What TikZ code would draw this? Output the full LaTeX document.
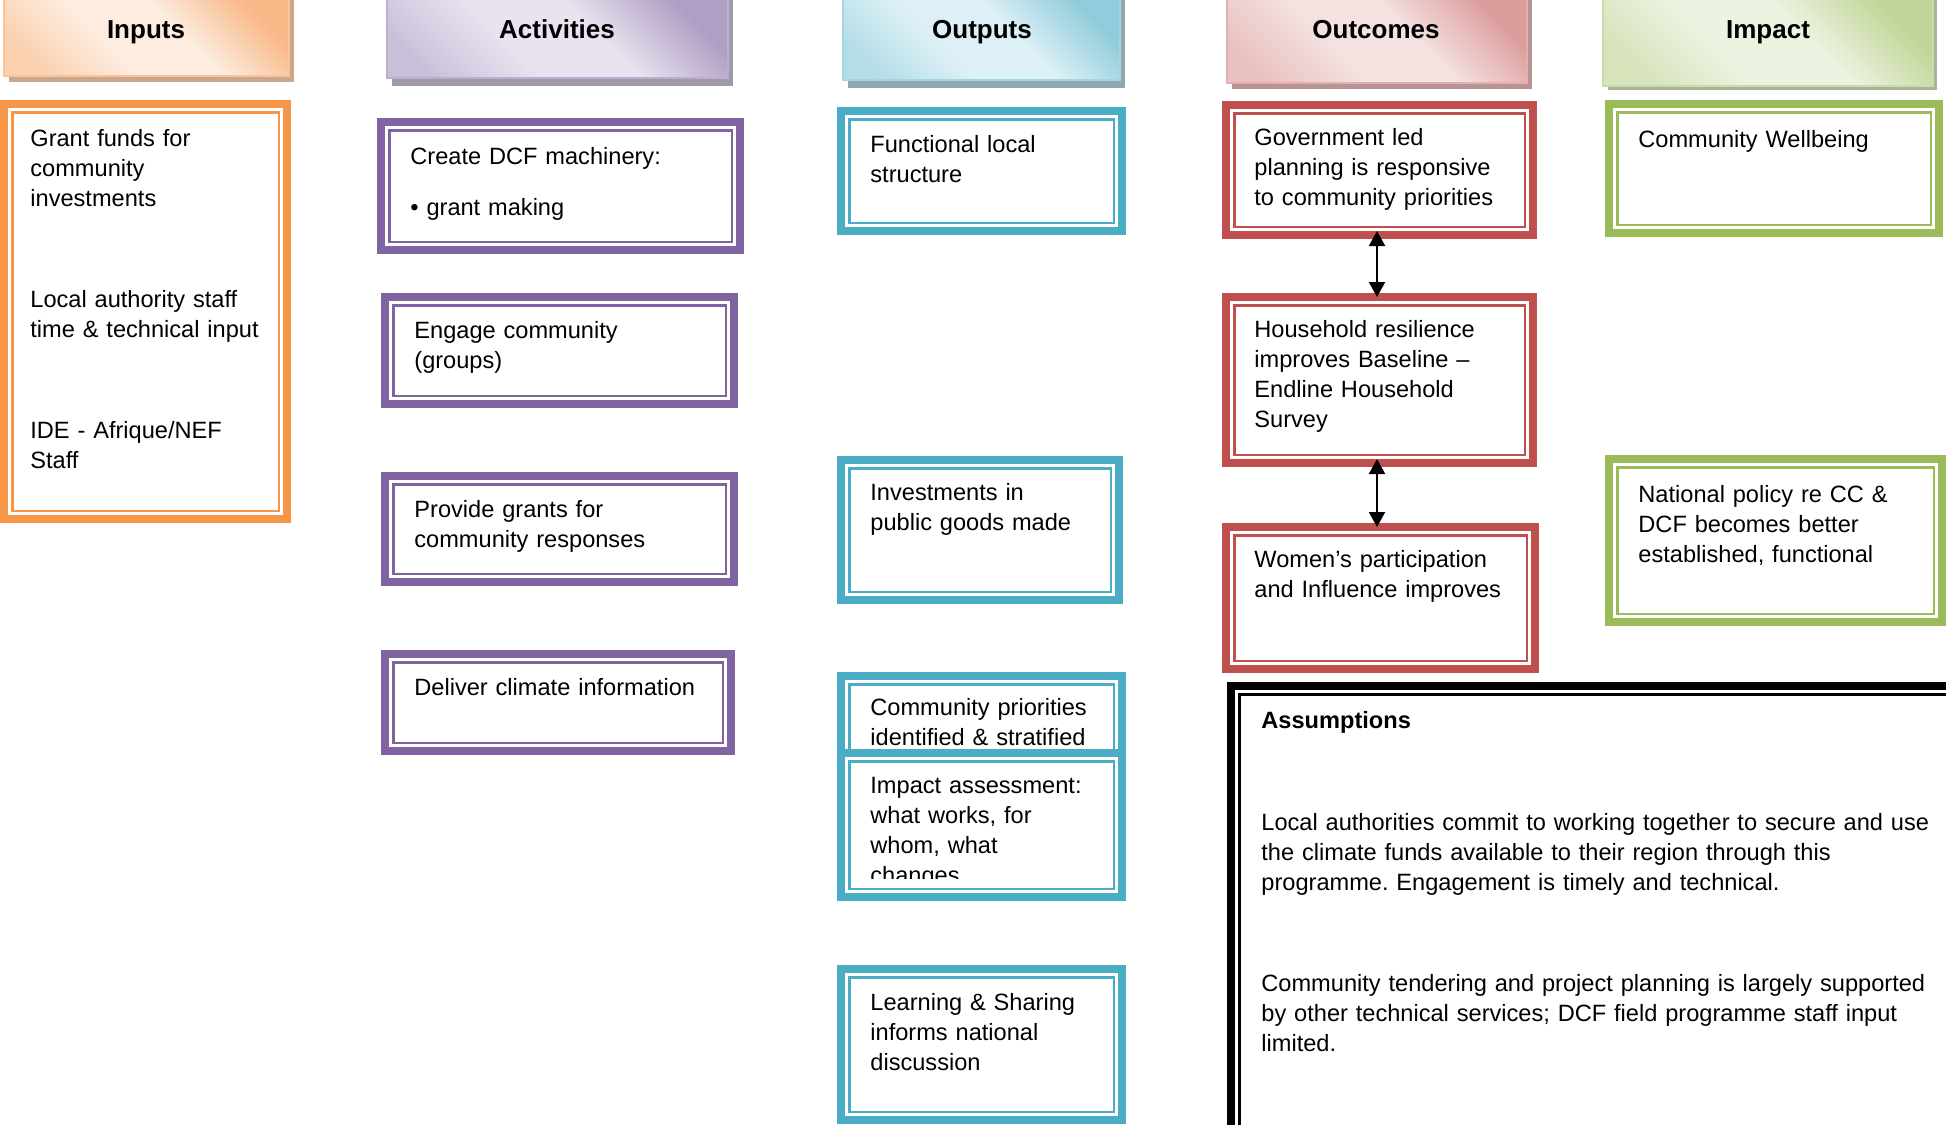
\documentclass[tikz,border=0pt]{standalone}
\usepackage{fontspec}
\setmainfont{Liberation Sans}
\usetikzlibrary{fit,arrows.meta}
\frenchspacing
\definecolor{cOrg}{HTML}{F79646}
\definecolor{cPur}{HTML}{8064A2}
\definecolor{cBlu}{HTML}{4BACC6}
\definecolor{cRed}{HTML}{C0504D}
\definecolor{cGrn}{HTML}{9BBB59}
% header colours
\definecolor{hOrgD}{HTML}{F8B888}\definecolor{hOrgL}{HTML}{FDECDF}\definecolor{hOrgM}{HTML}{FAD0AE}\definecolor{hOrgS}{HTML}{CBA88C}\definecolor{hOrgB}{HTML}{F9C49A}
\definecolor{hPurD}{HTML}{B09FC5}\definecolor{hPurL}{HTML}{E8E3EF}\definecolor{hPurM}{HTML}{CABFD9}\definecolor{hPurS}{HTML}{A199AA}\definecolor{hPurB}{HTML}{BCAECF}
\definecolor{hBluD}{HTML}{90CCDB}\definecolor{hBluL}{HTML}{DDF0F5}\definecolor{hBluM}{HTML}{B5DDE8}\definecolor{hBluS}{HTML}{8FA8B0}\definecolor{hBluB}{HTML}{A3D5E2}
\definecolor{hRedD}{HTML}{DC9E9D}\definecolor{hRedL}{HTML}{F4E2E1}\definecolor{hRedM}{HTML}{E8C1C0}\definecolor{hRedS}{HTML}{B89594}\definecolor{hRedB}{HTML}{E2B0AF}
\definecolor{hGrnD}{HTML}{C1D598}\definecolor{hGrnL}{HTML}{EDF3E1}\definecolor{hGrnM}{HTML}{D6E3BB}\definecolor{hGrnS}{HTML}{A9B39A}\definecolor{hGrnB}{HTML}{CADCA8}
\newcommand\mkshade[4]{\pgfdeclarehorizontalshading{#1}{100bp}{color(0bp)=(#2); color(22bp)=(#2); color(40bp)=(#3); color(56bp)=(#3); color(74bp)=(#4); color(100bp)=(#4)}}
\mkshade{shIn}{hOrgM}{hOrgL}{hOrgD}
\mkshade{shAct}{hPurM}{hPurL}{hPurD}
\mkshade{shOut}{hBluM}{hBluL}{hBluD}
\mkshade{shOc}{hRedM}{hRedL}{hRedD}
\mkshade{shIm}{hGrnM}{hGrnL}{hGrnD}
\newcommand\bodyfont{\fontsize{11.8pt}{15pt}\selectfont}
\newcommand\dblbox[6]{%
  \node[draw=#2, fill=white, line width=4pt, inner sep=0pt, outer sep=2pt,
        fit={(#3+4,#4+4) (#5-4,#6-4)}] (#1) {};
  \draw[draw=#2, line width=1.25pt] ([shift={(12.25,12.25)}]#1.north west)
        rectangle ([shift={(-12.25,-12.25)}]#1.south east);
}
\tikzset{
  bt/.style={anchor=base west, inner sep=0pt, align=left, text width=#1, font=\bodyfont},
  bt/.default=220pt,
  ht/.style={anchor=base, inner sep=0pt, font=\fontsize{13pt}{15pt}\selectfont\bfseries},
  hdrbox/.style n args={2}{inner sep=0pt, outer sep=0pt, draw=#1, line width=0.8pt,
     shade, shading=#2, shading angle=45},
  arr/.style={{Triangle[width=8pt,length=7.5pt]}-{Triangle[width=8pt,length=7.5pt]},
     line width=1pt, black, shorten <=-4pt, shorten >=-2pt}
}
\begin{document}
\begin{tikzpicture}[x=0.5pt, y=-0.5pt]
\useasboundingbox (0,0) rectangle (1946,1124);
\clip (0,0) rectangle (1946,1124);

% ---------- headers ----------
\fill[hOrgS] (9,-9) rectangle (294,82);
\node[hdrbox={hOrgB}{shIn}, fit={(4,-15) (289,76)}] (hIn) {};
\node[ht] (tIn) at (146,39) {Inputs};

\fill[hPurS] (392,-9) rectangle (733,86);
\node[hdrbox={hPurB}{shAct}, fit={(387,-15) (728,78)}] (hAct) {};
\node[ht] (tAct) at (557,39) {Activities};

\fill[hBluS] (848,-9) rectangle (1125,88);
\node[hdrbox={hBluB}{shOut}, fit={(843,-15) (1120,80)}] (hOut) {};
\node[ht] (tOut) at (982,39) {Outputs};

\fill[hRedS] (1232,-9) rectangle (1532,89);
\node[hdrbox={hRedB}{shOc}, fit={(1227,-15) (1527,83)}] (hOc) {};
\node[ht] (tOc) at (1376,39) {Outcomes};

\fill[hGrnS] (1608,-9) rectangle (1937,90);
\node[hdrbox={hGrnB}{shIm}, fit={(1603,-15) (1933,86)}] (hIm) {};
\node[ht] (tIm) at (1768,39) {Impact};

% ---------- inputs ----------
\dblbox{in}{cOrg}{0}{100}{291}{523}
\node[bt] (in1) at (30,146) {Grant funds for\\community\\investments};
\node[bt] (in2) at (30,307) {Local authority staff\\time \& technical input};
\node[bt] (in3) at (30,438) {IDE - Afrique/NEF\\Staff};

% ---------- activities ----------
\dblbox{act1}{cPur}{377}{118}{744}{254}
\node[bt] (act1a) at (410,164) {Create DCF machinery:};
\node[bt] (act1b) at (410,215) {• grant making};
\dblbox{act2}{cPur}{381}{293}{738}{408}
\node[bt] (act2t) at (414,338) {Engage community\\(groups)};
\dblbox{act3}{cPur}{381}{472}{738}{586}
\node[bt] (act3t) at (414,517) {Provide grants for\\community responses};
\dblbox{act4}{cPur}{381}{650}{735}{755}
\node[bt] (act4t) at (414,695) {Deliver climate information};

% ---------- outputs ----------
\dblbox{out1}{cBlu}{837}{107}{1126}{235}
\node[bt] (out1t) at (870,152) {Functional local\\structure};
\dblbox{out2}{cBlu}{837}{456}{1123}{604}
\node[bt] (out2t) at (870,500) {Investments in\\public goods made};
\dblbox{out3}{cBlu}{837}{672}{1126}{810}
\node[bt] (out3t) at (870,715) {Community priorities\\identified \& stratified};
\dblbox{out4}{cBlu}{837}{749}{1126}{901}
\begin{scope}
\clip (837,749) rectangle (1126,878);
\node[bt] (out4t) at (870,793) {Impact assessment:\\what works, for\\whom, what\\changes};
\end{scope}
\dblbox{out5}{cBlu}{837}{965}{1126}{1124}
\node[bt] (out5t) at (870,1010) {Learning \& Sharing\\informs national\\discussion};

% ---------- outcomes ----------
\dblbox{oc1}{cRed}{1222}{101}{1537}{239}
\node[bt] (oc1t) at (1254,145) {Government led\\planning is responsive\\to community priorities};
\dblbox{oc2}{cRed}{1222}{293}{1537}{467}
\node[bt] (oc2t) at (1254,337) {Household resilience\\improves Baseline –\\Endline Household\\Survey};
\dblbox{oc3}{cRed}{1222}{523}{1539}{673}
\node[bt] (oc3t) at (1254,567) {Women’s participation\\and Influence improves};
\draw[arr] ([xshift=-1.25pt]oc1.south) -- ([xshift=-1.25pt]oc1.south |- oc2.north);
\draw[arr] ([xshift=-1.25pt]oc1.south |- oc2.south) -- ([xshift=-1.25pt]oc1.south |- oc3.north);

% ---------- impact ----------
\dblbox{im1}{cGrn}{1605}{100}{1943}{237}
\node[bt] (im1t) at (1638,147) {Community Wellbeing};
\dblbox{im2}{cGrn}{1605}{455}{1946}{626}
\node[bt] (im2t) at (1638,502) {National policy re CC \&\\DCF becomes better\\established, functional};

% ---------- assumptions ----------
\dblbox{assm}{black}{1227}{682}{1990}{1180}
\node[bt=380pt, font=\bodyfont\bfseries] (as0) at (1261,728) {Assumptions};
\node[bt=380pt] (as1) at (1261,830) {Local authorities commit to working together to secure and use\\the climate funds available to their region through this\\programme. Engagement is timely and technical.};
\node[bt=380pt] (as2) at (1261,991) {Community tendering and project planning is largely supported\\by other technical services; DCF field programme staff input\\limited.};
\end{tikzpicture}
\end{document}
